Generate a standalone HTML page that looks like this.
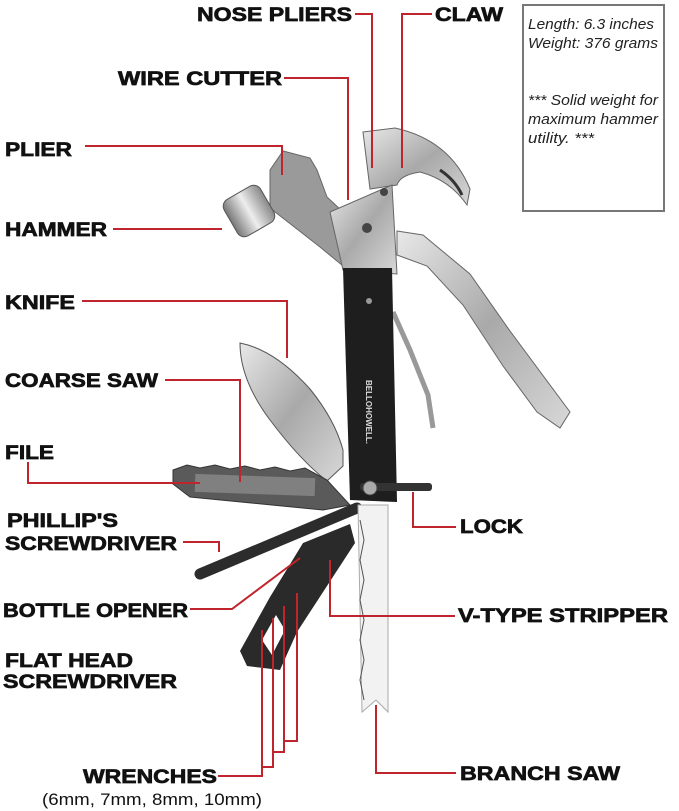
<!DOCTYPE html>
<html><head><meta charset="utf-8"><style>
html,body{margin:0;padding:0;background:#fff;}
svg{display:block;}
.l{font-family:"Liberation Sans",sans-serif;font-weight:bold;font-size:19.5px;fill:#111;stroke:#111;stroke-width:0.7;}
.r{stroke:#c0242c;stroke-width:2;fill:none;}
.i{font-family:"Liberation Sans",sans-serif;font-style:italic;font-size:15px;fill:#222;}
</style></head><body>
<svg width="679" height="811" viewBox="0 0 679 811" xmlns="http://www.w3.org/2000/svg">
<defs>
<linearGradient id="sil" x1="0" y1="0" x2="1" y2="1"><stop offset="0" stop-color="#e8e8e8"/><stop offset=".5" stop-color="#a9a9a9"/><stop offset="1" stop-color="#d8d8d8"/></linearGradient>
<linearGradient id="sil2" x1="0" y1="0" x2="1" y2="0"><stop offset="0" stop-color="#777"/><stop offset=".5" stop-color="#eee"/><stop offset="1" stop-color="#888"/></linearGradient>
</defs>
<rect x="523" y="5" width="141" height="206" fill="#fff" stroke="#777" stroke-width="2"/>
<text class="i" x="528" y="29" textLength="126" lengthAdjust="spacingAndGlyphs">Length: 6.3 inches</text>
<text class="i" x="528" y="48" textLength="130" lengthAdjust="spacingAndGlyphs">Weight: 376 grams</text>
<text class="i" x="528" y="105" textLength="130" lengthAdjust="spacingAndGlyphs">*** Solid weight for</text>
<text class="i" x="528" y="124" textLength="130" lengthAdjust="spacingAndGlyphs">maximum hammer</text>
<text class="i" x="528" y="143" textLength="66" lengthAdjust="spacingAndGlyphs">utility. ***</text>

<polygon points="397,231 423,235 470,274 510,331 570,412 560,428 537,412 503,366 463,305 427,266 397,255" fill="url(#sil)" stroke="#666"/>
<polyline points="393,312 410,350 428,395 433,428" stroke="#999" stroke-width="5" fill="none"/>
<path d="M363,132 L395,128 Q450,140 470,189 L467,205 Q450,180 420,172 Q400,175 397,185 L370,189 Z" fill="url(#sil)" stroke="#666"/>
<path d="M440,170 Q455,180 462,195" stroke="#333" stroke-width="3" fill="none"/>
<polygon points="270,170 283,151 310,158 317,170 327,197 343,212 343,266 320,247 270,208" fill="#9a9a9a" stroke="#666"/>
<rect x="228" y="190" width="42" height="42" rx="8" fill="url(#sil2)" stroke="#555" transform="rotate(-30 249 211)"/>
<polygon points="330,212 392,185 397,274 343,270" fill="url(#sil)" stroke="#666"/>
<circle cx="367" cy="228" r="5" fill="#444"/>
<circle cx="384" cy="192" r="4" fill="#444"/>
<path d="M240,343 Q275,350 310,389 Q335,420 343,450 L343,466 L327,481 Q300,460 270,420 Q240,380 240,343 Z" fill="url(#sil)" stroke="#555"/>
<polygon points="343,268 392,268 397,502 350,500" fill="#1e1e1e"/>
<text x="0" y="0" transform="translate(366,380) rotate(90)" font-family="Liberation Sans,sans-serif" font-weight="bold" font-size="8" fill="#ddd">BELLOHOWELL.</text>
<circle cx="369" cy="301" r="3" fill="#999"/>
<rect x="360" y="483" width="72" height="8" rx="3" fill="#333"/>
<circle cx="370" cy="488" r="7" fill="#aaa" stroke="#444"/>
<polygon points="173,470 187,465 200,468 215,465 230,469 245,466 260,470 275,467 290,471 305,468 327,480 350,505 323,510 190,497 173,484" fill="#5a5a5a" stroke="#333"/>
<rect x="195" y="476" width="120" height="18" fill="#9a9a9a" opacity=".6" transform="rotate(2 255 485)"/>
<line x1="200" y1="574" x2="357" y2="508" stroke="#2c2c2c" stroke-width="11" stroke-linecap="round"/>
<polygon points="303,543 350,524 355,543 297,632 280,670 247,666 240,651 270,597" fill="#2a2a2a"/>
<polygon points="262,640 276,615 285,630 272,655" fill="#fff"/>
<polygon points="358,505 388,505 388,712 376,700 362,712" fill="#f2f2f2" stroke="#aaa"/>
<polyline points="360,520 364,540 360,560 364,580 360,600 364,620 360,640 364,660 360,680 364,700" stroke="#555" fill="none"/>

<text class="l" x="197" y="21" textLength="155" lengthAdjust="spacingAndGlyphs">NOSE PLIERS</text>
<text class="l" x="435" y="21" textLength="68" lengthAdjust="spacingAndGlyphs">CLAW</text>
<text class="l" x="118" y="85" textLength="164" lengthAdjust="spacingAndGlyphs">WIRE CUTTER</text>
<text class="l" x="5" y="156" textLength="67" lengthAdjust="spacingAndGlyphs">PLIER</text>
<text class="l" x="5" y="236" textLength="102" lengthAdjust="spacingAndGlyphs">HAMMER</text>
<text class="l" x="5" y="309" textLength="70" lengthAdjust="spacingAndGlyphs">KNIFE</text>
<text class="l" x="5" y="387" textLength="153" lengthAdjust="spacingAndGlyphs">COARSE SAW</text>
<text class="l" x="5" y="459" textLength="49" lengthAdjust="spacingAndGlyphs">FILE</text>
<text class="l" x="7" y="527" textLength="111" lengthAdjust="spacingAndGlyphs">PHILLIP'S</text>
<text class="l" x="5" y="550" textLength="172" lengthAdjust="spacingAndGlyphs">SCREWDRIVER</text>
<text class="l" x="3" y="617" textLength="185" lengthAdjust="spacingAndGlyphs">BOTTLE OPENER</text>
<text class="l" x="5" y="667" textLength="128" lengthAdjust="spacingAndGlyphs">FLAT HEAD</text>
<text class="l" x="3" y="688" textLength="174" lengthAdjust="spacingAndGlyphs">SCREWDRIVER</text>
<text class="l" x="83" y="783" textLength="134" lengthAdjust="spacingAndGlyphs">WRENCHES</text>
<text x="42" y="805" font-family="Liberation Sans,sans-serif" font-size="17" fill="#111" textLength="220" lengthAdjust="spacingAndGlyphs">(6mm, 7mm, 8mm, 10mm)</text>
<text class="l" x="460" y="533" textLength="63" lengthAdjust="spacingAndGlyphs">LOCK</text>
<text class="l" x="458" y="622" textLength="210" lengthAdjust="spacingAndGlyphs">V-TYPE STRIPPER</text>
<text class="l" x="460" y="780" textLength="160" lengthAdjust="spacingAndGlyphs">BRANCH SAW</text>

<polyline class="r" points="355,14 372,14 372,168"/>
<polyline class="r" points="432,14 402,14 402,168"/>
<polyline class="r" points="284,78 348,78 348,200"/>
<polyline class="r" points="85,146 282,146 282,175"/>
<polyline class="r" points="113,229 222,229"/>
<polyline class="r" points="82,301 287,301 287,358"/>
<polyline class="r" points="165,380 240,380 240,482"/>
<polyline class="r" points="28,462 28,483 200,483"/>
<polyline class="r" points="183,542 219,542 219,552"/>
<polyline class="r" points="190,609 232,609 300,558"/>
<polyline class="r" points="218,776 262,776 262,630"/>
<polyline class="r" points="262,767 273,767 273,618"/>
<polyline class="r" points="273,752 284,752 284,606"/>
<polyline class="r" points="284,741 297,741 297,593"/>
<polyline class="r" points="456,527 413,527 413,492"/>
<polyline class="r" points="455,616 330,616 330,560"/>
<polyline class="r" points="456,773 376,773 376,705"/>
</svg>
</body></html>
